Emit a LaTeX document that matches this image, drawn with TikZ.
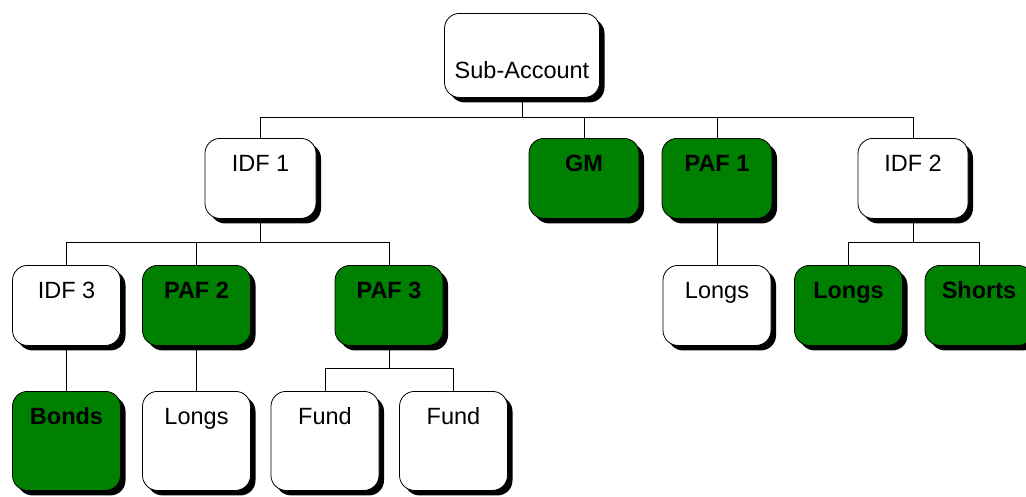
\documentclass[tikz,border=0pt]{standalone}
\usepackage{fontspec}
\setmainfont{Liberation Sans}
\usetikzlibrary{shadows}
\definecolor{boxgreen}{RGB}{0,128,0}
\begin{document}
\begin{tikzpicture}[x=1pt,y=-1pt,
  card/.style={draw=black, line width=0.8pt, rounded corners=15pt,
    inner xsep=0pt, inner ysep=0pt, anchor=north,
    minimum width=108pt, text height=33pt, text depth=47pt,
    font=\fontsize{23.5}{28}\selectfont,
    drop shadow={opacity=1, fill=black, shadow xshift=5pt, shadow yshift=-5pt}},
  plain/.style={card, fill=white},
  green/.style={card, fill=boxgreen, font=\fontsize{23.5}{28}\selectfont\bfseries},
  tall/.style={text depth=66pt},
  link/.style={draw=black, line width=0.8pt}]
\useasboundingbox (0,0) rectangle (1026,496);
\clip (0,0) rectangle (1026,496);
\fill[white] (0,0) rectangle (1026,496);

% root
\node[plain, minimum width=155pt, text height=65.5pt, text depth=18.5pt] (sub) at (522,13) {Sub-Account};

% first level
\node[plain, minimum width=111pt] (idf1) at (260.5,138) {IDF 1};
\node[green, minimum width=110pt] (gm)   at (584,138)   {GM};
\node[green, minimum width=110pt] (paf1) at (717,138)   {PAF 1};
\node[plain, minimum width=110pt] (idf2) at (913,138)   {IDF 2};

% second level
\node[plain] (idf3)   at (66.5,265)  {IDF 3};
\node[green] (paf2)   at (196.5,265) {PAF 2};
\node[green] (paf3)   at (389,265)   {PAF 3};
\node[plain] (longsa) at (717,265)   {Longs};
\node[green] (longsb) at (848.5,265) {Longs};
\node[green] (shorts) at (979,265)   {Shorts};

% third level
\node[green, tall] (bonds)  at (66.5,391)  {Bonds};
\node[plain, tall] (longsc) at (196.5,391) {Longs};
\node[plain, tall] (funda)  at (325,391)   {Fund};
\node[plain, tall] (fundb)  at (453.5,391) {Fund};

% connectors
\path[link] (sub.south) -- ++(0,19.5) -| (idf1.north);
\path[link] (sub.south) -- ++(0,19.5) -| (gm.north);
\path[link] (sub.south) -- ++(0,19.5) -| (paf1.north);
\path[link] (sub.south) -- ++(0,19.5) -| (idf2.north);

\path[link] (idf1.south) -- ++(0,24) -| (idf3.north);
\path[link] (idf1.south) -- ++(0,24) -| (paf2.north);
\path[link] (idf1.south) -- ++(0,24) -| (paf3.north);

\path[link] (paf1.south) -- (longsa.north);

\path[link] (idf2.south) -- ++(0,24) -| (longsb.north);
\path[link] (idf2.south) -- ++(0,24) -| (shorts.north);

\path[link] (idf3.south) -- (bonds.north);
\path[link] (paf2.south) -- (longsc.north);

\path[link] (paf3.south) -- ++(0,23) -| (funda.north);
\path[link] (paf3.south) -- ++(0,23) -| (fundb.north);
\end{tikzpicture}
\end{document}
